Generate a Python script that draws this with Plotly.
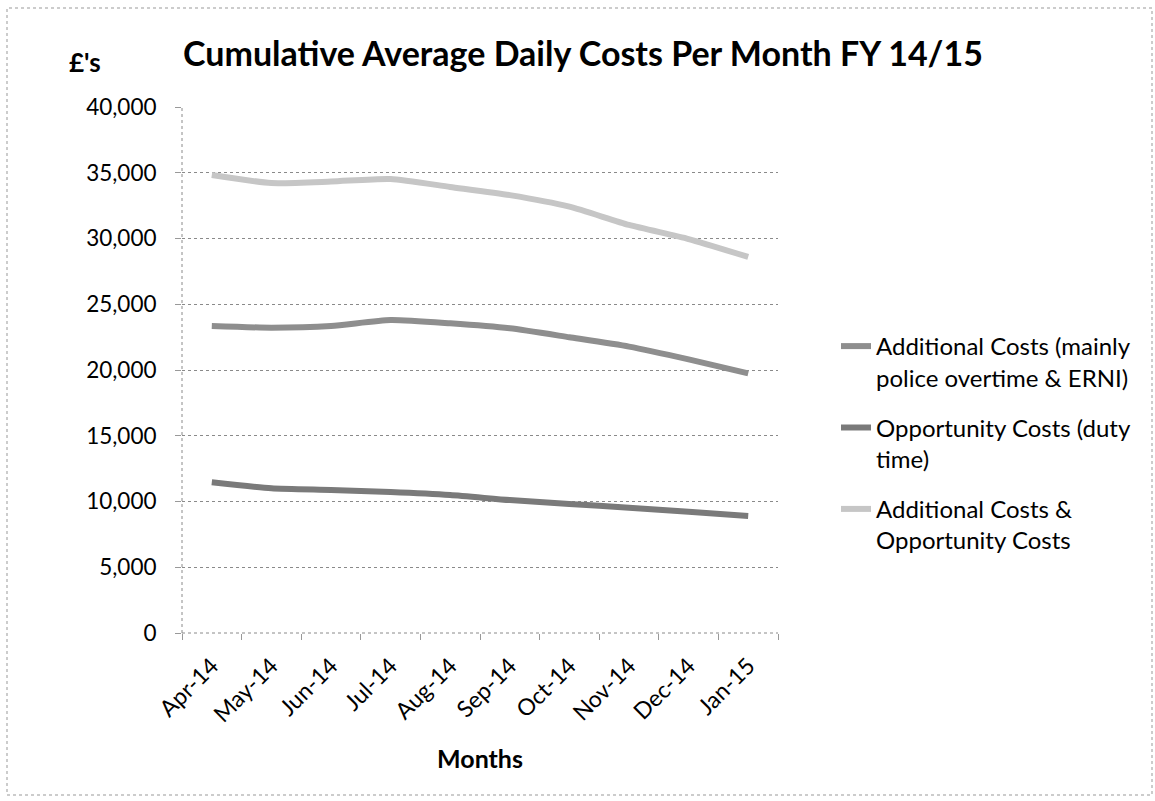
import plotly.graph_objects as go

months = ["Apr-14", "May-14", "Jun-14", "Jul-14", "Aug-14", "Sep-14", "Oct-14", "Nov-14", "Dec-14", "Jan-15"]
additional = [23350, 23220, 23350, 23800, 23550, 23170, 22490, 21780, 20810, 19740]
opportunity = [11460, 11000, 10875, 10720, 10490, 10110, 9810, 9530, 9220, 8900]
combined = [34830, 34220, 34330, 34530, 33920, 33300, 32420, 31030, 29960, 28600]

names = ["Additional Costs (mainly<br>police overtime & ERNI)",
         "Opportunity Costs (duty<br>time)",
         "Additional Costs &<br>Opportunity Costs"]
colors = ["#8e8e8e", "#7a7a7a", "#c6c6c6"]

FONT = "Lato, Open Sans, sans-serif"

fig = go.Figure()
for i, (vals, name, col) in enumerate(zip([additional, opportunity, combined], names, colors)):
    fig.add_trace(go.Scatter(x=months, y=vals, name=name, mode="lines", legendgroup=f"g{i}",
                             line=dict(color=col, width=6, shape="spline", smoothing=0.6)))

L, R, T, B = 182, 778, 107, 633
W, H = 1155, 801
pw, ph = R - L, B - T

fig.update_layout(
    width=W, height=H,
    margin=dict(l=L, r=W - R, t=T, b=H - B, autoexpand=False),
    paper_bgcolor="white", plot_bgcolor="white",
    font=dict(family=FONT, color="black"),
    showlegend=True,
    legend=dict(x=(836 - L) / pw, xanchor="left", y=(B - 324) / ph, yanchor="top",
                font=dict(size=24, family=FONT), valign="top", itemwidth=30,
                tracegroupgap=16, traceorder="grouped",
                bgcolor="rgba(0,0,0,0)"),
    xaxis=dict(type="category", range=[-0.5, 9.5], tickangle=-45,
               tickfont=dict(size=23, family=FONT), ticks="outside", tickson="boundaries",
               ticklen=6, tickcolor="#999", showline=False,
               showgrid=False, zeroline=False, ticklabelstandoff=14,
               title=dict(text="<b>Months</b>", font=dict(size=25, family=FONT), standoff=24)),
    yaxis=dict(range=[0, 40000], dtick=5000, tickformat=",d",
               tickfont=dict(size=22.5, family=FONT), ticks="outside", ticklen=6,
               tickcolor="#999", showline=False, ticklabelstandoff=14,
               showgrid=True, gridcolor="#8a8a8a", griddash="dot", gridwidth=1,
               zeroline=False),
)

# dotted axis lines
fig.add_shape(type="line", xref="paper", yref="paper", x0=0, x1=0, y0=0, y1=1,
              line=dict(color="#8a8a8a", width=1, dash="dot"))
fig.add_shape(type="line", xref="paper", yref="paper", x0=0, x1=1, y0=0, y1=0,
              line=dict(color="#8a8a8a", width=1, dash="dot"))

fig.add_annotation(text="<b>Cumulative Average Daily Costs Per Month FY 14/15</b>",
                   xref="paper", yref="paper", x=(583 - L) / pw, y=(B - 52) / ph,
                   xanchor="center", yanchor="middle", showarrow=False,
                   font=dict(size=34, family=FONT))
fig.add_annotation(text="<b>£'s</b>", xref="paper", yref="paper",
                   x=(85 - L) / pw, y=(B - 62) / ph, xanchor="center", yanchor="middle",
                   showarrow=False, font=dict(size=26, family=FONT))

fig.add_shape(type="rect", xref="paper", yref="paper",
              x0=(7 - L) / pw, x1=(1152 - L) / pw, y0=(B - 795) / ph, y1=(B - 8) / ph,
              line=dict(color="#999", width=1, dash="dot"), layer="below")

fig.write_html("out.html", config={"displayModeBar": False},
               post_script="document.body.style.margin='0px';")
